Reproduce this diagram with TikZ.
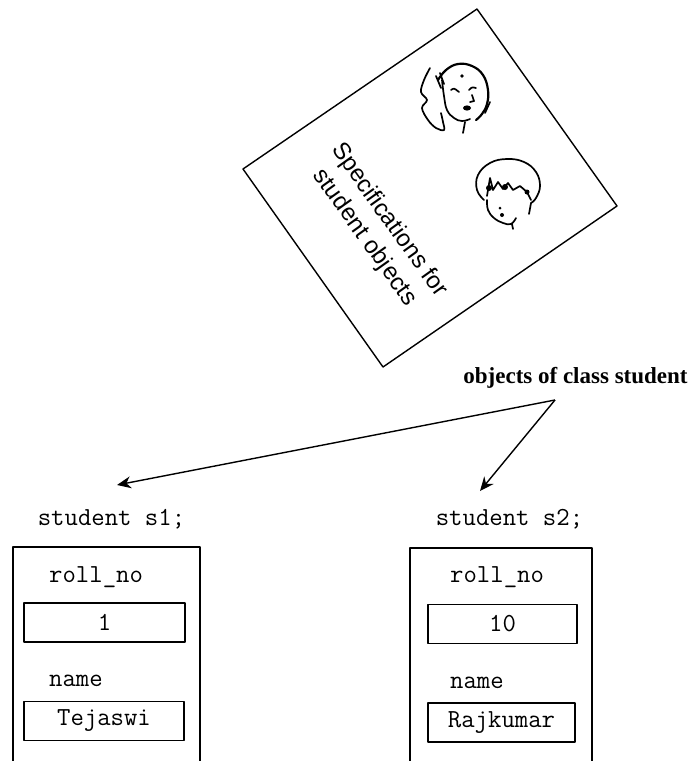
\documentclass[tikz,border=0pt]{standalone}
\usepackage{fontspec}
\setmainfont{Liberation Serif}
\newfontfamily\helv{Liberation Sans}
\usetikzlibrary{arrows.meta}

\begin{document}
\begin{tikzpicture}[x=1pt,y=-1pt,
  line join=round,
  frame/.style={line width=1.4pt},
  field/.style={draw, line width=1.4pt, minimum height=39pt, inner sep=0pt,
    font=\ttfamily\fontsize{26}{26}\selectfont},
  code/.style={inner sep=0pt, font=\ttfamily\fontsize{26}{26}\selectfont},
  pointer/.style={line width=1.4pt, -{Stealth[length=14pt,width=12pt]}},
  sketch/.style={line width=1.7pt, line cap=round, line join=round},
]
\useasboundingbox (0,0) rectangle (697,761);

% the tilted specification sheet
\coordinate (sheetL) at (243,169);
\coordinate (sheetT) at (477,9);
\coordinate (sheetR) at (617,206);
\coordinate (sheetB) at (383,367);
\draw[frame] (sheetL) -- (sheetT) -- (sheetR) -- (sheetB) -- cycle;
\node[rotate=-54.5, align=center, inner sep=0pt,
      font=\helv\fontsize{24}{30}\selectfont] (spec) at (377,229)
  {Specifications for\\student objects};

% sketch of a girl's head
\draw[sketch, line width=2.2pt] plot[smooth, tension=0.7] coordinates
  {(438,80) (446,70) (458,64) (472,66) (483,75) (488,90) (487,104) (482,114) (476,120)};
\draw[sketch] (490,102) -- (485,113);
\draw[sketch] plot[smooth, tension=0.6] coordinates
  {(430,68) (424,80) (421,92) (427,100) (422,108) (428,120) (436,128) (444,130) (443,122) (441,113)};
\draw[sketch] plot[smooth, tension=0.7] coordinates
  {(442,80) (444,96) (447,110) (454,118) (462,121) (470,119)};
\draw[sketch] (465,122) -- (463,133);
\draw[sketch] (436,76) -- (441,88);
\draw[sketch] (440,73) -- (444,84);
\draw[sketch] (451,90) .. controls (454,88) .. (459,92);
\draw[sketch] (469,90) .. controls (472,87) .. (476,88);
\draw[sketch] (472,95) -- (474,101) -- (470,102);
\fill (462,76) circle (1.9pt);
\fill (467,108) ellipse (4pt and 2.6pt);

% sketch of a boy's head
\draw[sketch] plot[smooth, tension=0.7] coordinates
  {(484,200) (477,190) (478,175) (490,163) (507,159) (524,162) (536,172) (540,186) (536,198) (531,203)};
\draw[sketch] (487,196) -- (490,178) -- (493,190) -- (498,182) -- (503,189)
  -- (508,183) -- (513,190) -- (520,186) -- (527,192) -- (531,200);
\fill (489,188) circle (3pt);
\fill (505,187) circle (3pt);
\fill (527,192) circle (2.5pt);
\draw[sketch] plot[smooth, tension=0.7] coordinates
  {(487,200) (488,210) (494,218) (503,223) (511,224) (516,218)};
\draw[sketch] (531,203) -- (529,214);
\draw[sketch] (512,224) -- (513,229);
\fill (500,208) circle (1.5pt);
\fill (502,215) circle (2pt);

% caption and pointers
\node[anchor=base, inner sep=0pt, font=\bfseries\fontsize{23}{23}\selectfont]
  (caption) at (575.5,383) {objects of class student};
\coordinate (apex) at (555,400);
\coordinate (tipA) at (117,485);
\coordinate (tipB) at (480,491);
\draw[pointer] (apex) -- (tipA);
\draw[pointer] (apex) -- (tipB);

% object s1
\node[code] (declA) at (111.5,519) {student s1;};
\draw[frame] (13,761) -- (13,547) -- (200,547) -- (200,761);
\node[code, anchor=west] (rollA) at (49,577) {roll\_no};
\node[field, minimum width=161pt] (valA) at (104.5,622.5) {1};
\node[code, anchor=west] (nameA) at (49,681) {name};
\node[field, minimum width=160pt] (txtA) at (104,721) {Tejaswi};

% object s2
\node[code] (declB) at (509.5,519) {student s2;};
\draw[frame] (410,761) -- (410,548) -- (592,548) -- (592,761);
\node[code, anchor=west] (rollB) at (450,577) {roll\_no};
\node[field, minimum width=149pt] (valB) at (502.5,624) {10};
\node[code, anchor=west] (nameB) at (450,683) {name};
\node[field, minimum width=147pt] (txtB) at (501.5,722.5) {Rajkumar};
\end{tikzpicture}
\end{document}
